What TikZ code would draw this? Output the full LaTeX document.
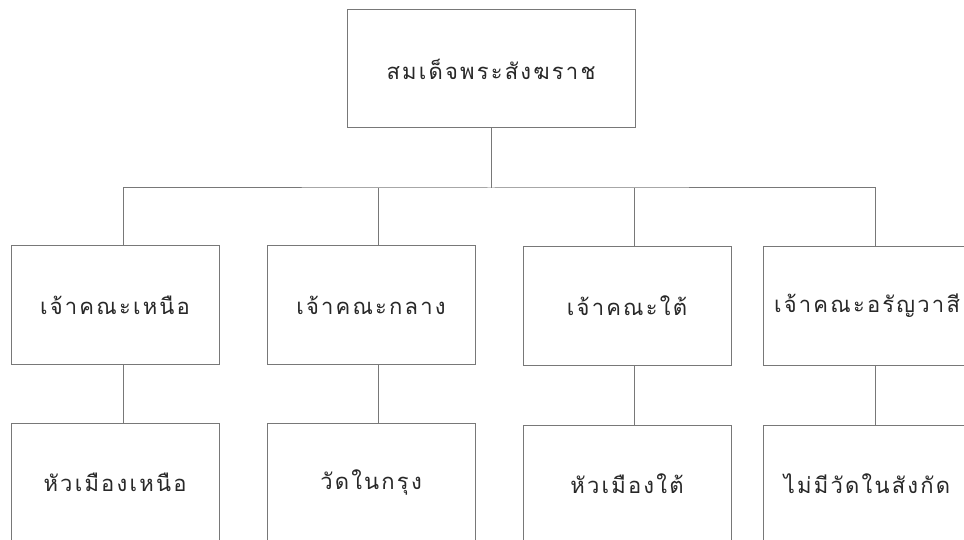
\documentclass[tikz,border=0pt]{standalone}
\usepackage{fontspec}
\newfontfamily\thaifont[Script=Thai,LetterSpace=10]{Loma}
\definecolor{linegray}{RGB}{120,120,120}
\definecolor{textgray}{RGB}{40,40,40}
\begin{document}
\begin{tikzpicture}[x=1pt,y=-1pt,
  box/.style={draw=linegray, line width=1pt, minimum width=208pt, minimum height=118pt,
    inner sep=0pt, font=\thaifont\fontsize{22}{26}\selectfont, text=textgray},
  link/.style={draw=linegray, line width=1pt}]
\useasboundingbox (0,0) rectangle (964,540);
\fill[white] (0,0) rectangle (964,540);
\clip (0,0) rectangle (964,540);
\node[box, minimum width=288pt] (top) at (491,69) {สมเด็จพระสังฆราช};
\node[box] (c1) at (115,305) {เจ้าคณะเหนือ};
\node[box] (c2) at (371,305) {เจ้าคณะกลาง};
\node[box] (c3) at (627,306) {เจ้าคณะใต้};
\node[box] (c4) at (867,306) {เจ้าคณะอรัญวาสี};
\node[box] (d1) at (115,482) {หัวเมืองเหนือ};
\node[box] (d2) at (371,482) {วัดในกรุง};
\node[box] (d3) at (627,484) {หัวเมืองใต้};
\node[box] (d4) at (867,484) {ไม่มีวัดในสังกัด};
\coordinate (bus) at (491,188);
\draw[link] (top.south) -- (bus);
\draw[link] ([xshift=8pt]c1.north) |- (bus) -| ([xshift=8pt]c4.north);
\draw[link] ([xshift=7pt]c2.north) -- ([xshift=7pt]c2.north |- bus);
\draw[link] ([xshift=7pt]c3.north) -- ([xshift=7pt]c3.north |- bus);
\draw[link] ([xshift=8pt]c1.south) -- ([xshift=8pt]d1.north);
\draw[link] ([xshift=7pt]c2.south) -- ([xshift=7pt]d2.north);
\draw[link] ([xshift=7pt]c3.south) -- ([xshift=7pt]d3.north);
\draw[link] ([xshift=8pt]c4.south) -- ([xshift=8pt]d4.north);
\end{tikzpicture}
\end{document}
